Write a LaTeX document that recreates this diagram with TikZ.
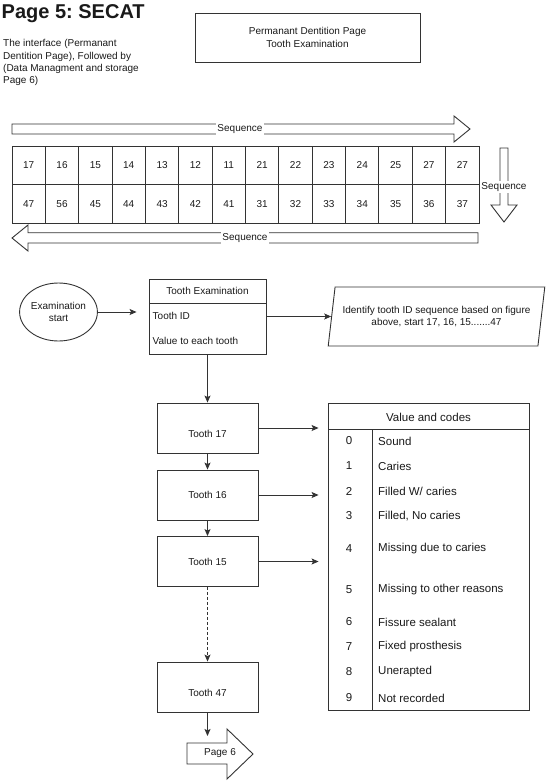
\documentclass[tikz,border=0pt]{standalone}
\usepackage{fontspec}
\setmainfont{Liberation Sans}
\usetikzlibrary{shapes.geometric,arrows.meta,calc}
\definecolor{lc}{HTML}{333333}
\definecolor{tc}{HTML}{1A1A1A}
\frenchspacing
\begin{document}
\begin{tikzpicture}[x=1pt,y=-1pt,
  ln/.style={draw=lc, line width=0.9pt},
  arr/.style={draw=lc, line width=0.9pt, -{Stealth[length=7pt,width=6pt,inset=1.5pt]}},
  txt/.style={font=\fontsize{10}{12.3}\selectfont, inner sep=0pt, text=tc},
  box/.style={draw=lc, line width=0.9pt, inner sep=0pt},
  cell/.style={box, minimum width=33.357pt, minimum height=38.5pt, txt},
  tooth/.style={box, minimum width=101pt, minimum height=50pt, txt},
  lowtext/.style={text height=19pt, text depth=0pt},
  blockarrow/.style={draw=lc, line width=0.9pt, fill=white},
  seqlabel/.style={txt, fill=white, inner sep=1pt},
  code/.style={font=\fontsize{11.5}{13}\selectfont, inner sep=0pt, text=tc}
]
\fill[white] (0,0) rectangle (550,784);
\useasboundingbox (0,0) rectangle (550,784);

% title and note
\node[anchor=base west, inner sep=0pt, font=\fontsize{20}{22}\selectfont\bfseries, text=tc] (title) at (1.5,18.3) {Page 5: SECAT};
\node[txt, anchor=north west, align=left] (note) at (3,39.3)
  {The interface (Permanant\\Dentition Page), Followed by\\(Data Managment and storage\\Page 6)};
\node[box, txt, minimum width=225pt, minimum height=49pt, align=center] (topbox) at (307.5,37.5)
  {Permanant Dentition Page\\Tooth Examination};

% sequence arrows
\draw[blockarrow] (12,124) -- (454,124) -- (454,116) -- (470,129) -- (454,142) -- (454,134) -- (12,134) -- cycle;
\node[seqlabel] (seqtop) at (240,129) {Sequence};
\draw[blockarrow] (500,148) -- (508,148) -- (508,205) -- (517,205) -- (504,222) -- (491,205) -- (500,205) -- cycle;
\node[seqlabel] (seqright) at (504,187) {Sequence};
\draw[blockarrow] (478,232.7) -- (28,232.7) -- (28,225) -- (12,238) -- (28,251) -- (28,243) -- (478,243) -- cycle;
\node[seqlabel] (seqbot) at (245,238) {Sequence};

% tooth grid
\foreach \t [count=\i] in {17,16,15,14,13,12,11,21,22,23,24,25,27,27}
  \node[cell] (u\i) at ({12+33.357*(\i-0.5)},165.25) {\t};
\foreach \t [count=\i] in {47,56,45,44,43,42,41,31,32,33,34,35,36,37}
  \node[cell] (l\i) at ({12+33.357*(\i-0.5)},203.75) {\t};

% examination start
\node[ellipse, box, txt, minimum width=77pt, minimum height=58pt, align=center] (start) at (58.5,312) {Examination\\start};
\node[box, minimum width=117pt, minimum height=75pt] (exam) at (207.5,316.5) {};
\draw[ln] (149,303) -- (266,303);
\node[txt] (examtitle) at (207.5,291) {Tooth Examination};
\node[txt, anchor=west] (toothid) at (152.5,316) {Tooth ID};
\node[txt, anchor=west] (valueeach) at (152.5,341) {Value to each tooth};
\draw[arr, shorten >=12pt] (start.east) -- (start.east -| exam.west);

\node[trapezium, box, txt, trapezium left angle=73, trapezium right angle=107, trapezium stretches=true,
      minimum width=217pt, minimum height=59pt, align=center] (ident) at (436.5,316.5)
  {Identify tooth ID sequence based on figure\\above, start 17, 16, 15.......47};
\draw[arr] (exam.east) -- (ident.west);

% tooth boxes
\node[tooth, lowtext] (t17) at (207.5,428) {Tooth 17};
\node[tooth] (t16) at (207.5,495) {Tooth 16};
\node[tooth] (t15) at (207.5,561.5) {Tooth 15};
\node[tooth, lowtext] (t47) at (207.5,687) {Tooth 47};
\draw[arr] (exam.south) -- (t17.north);
\draw[arr] (t17.south) -- (t16.north);
\draw[arr] (t16.south) -- (t15.north);
\draw[arr, dash pattern=on 3pt off 2pt] (t15.south) -- (t47.north);

% page 6 arrow
\draw[blockarrow] (187,743) -- (227,743) -- (227,729) -- (253,754) -- (227,779) -- (227,764) -- (187,764) -- cycle;
\node[txt] (page6) at (220,753.5) {Page 6};
\coordinate (p6in) at (207.5,736);
\draw[arr] (t47.south) -- (p6in);

% value and codes table
\node[box, minimum width=201pt, minimum height=307pt] (codes) at (428.5,556.5) {};
\draw[ln] (328,429) -- (529,429);
\draw[ln] (372,429) -- (372,710);
\node[code] (codetitle) at (428.5,417) {Value and codes};
\foreach \n/\y/\s in {0/441/{Sound}, 1/466/{Caries}, 2/491/{Filled W/ caries}, 3/516/{Filled, No caries},
    4/549/{Missing due to caries}, 5/590/{Missing to other reasons}, 6/622/{Fissure sealant},
    7/647/{Fixed prosthesis}, 8/672/{Unerapted}, 9/698/{Not recorded}} {
  \node[code] (n\n) at (349,\y) {\n};
  \node[code, anchor=west] (s\n) at (378,\y) {\s};
}
\draw[arr, shorten >=9pt] (t17.east) -- (t17.east -| codes.west);
\draw[arr, shorten >=9pt] (t16.east) -- (t16.east -| codes.west);
\draw[arr, shorten >=9pt] (t15.east) -- (t15.east -| codes.west);
\end{tikzpicture}
\end{document}
